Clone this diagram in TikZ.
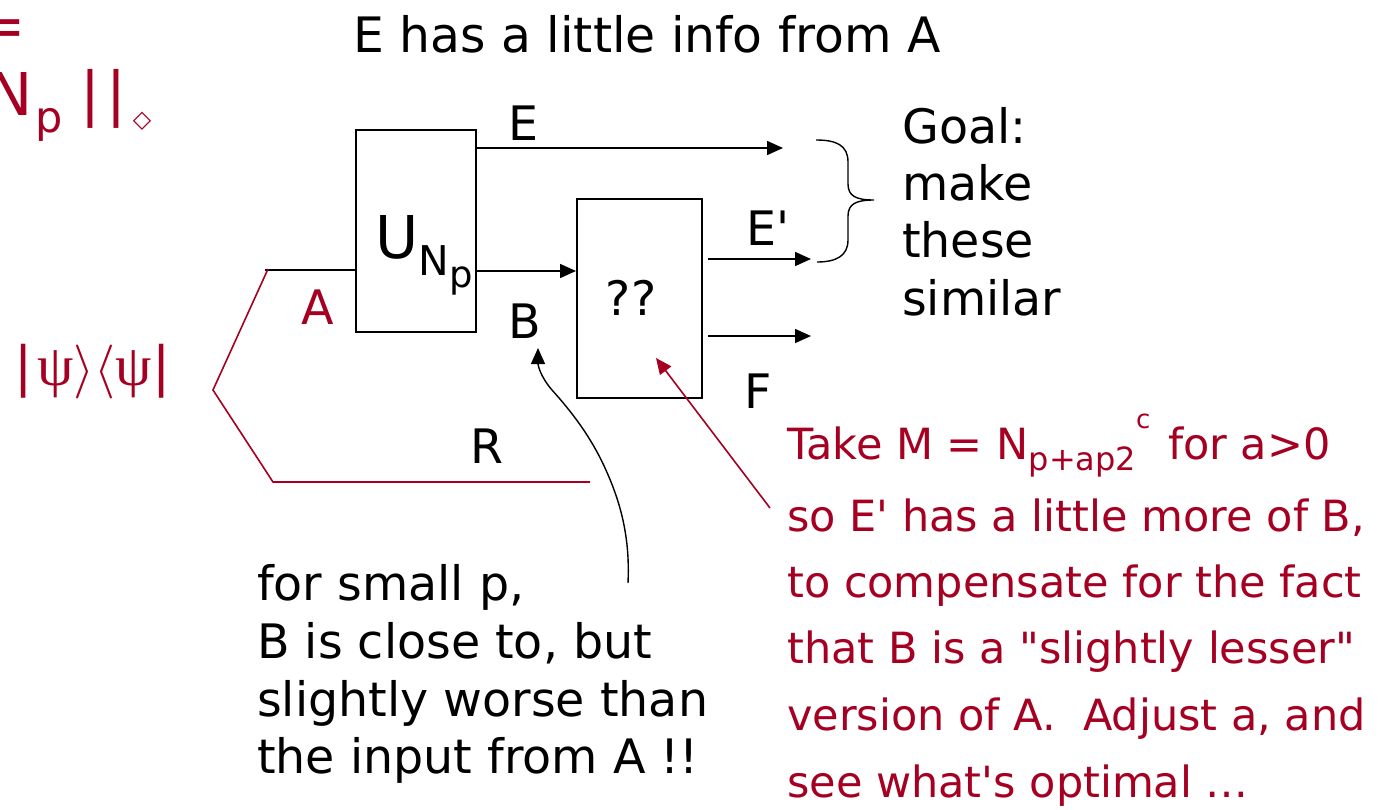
\documentclass[tikz,border=0pt]{standalone}
\usepackage{fix-cm}
\usepackage{fontspec}
\setmainfont{DejaVu Sans}[Ligatures=TeXOff]
\newfontfamily\psifont{Liberation Serif}
\usetikzlibrary{arrows.meta}
\definecolor{myred}{RGB}{165,0,33}
\begin{document}
\begin{tikzpicture}[x=1pt,y=-1pt,
  blk/.style={line width=1.6pt, draw=black},
  arr/.style={blk, -{Triangle[length=16pt,width=14pt]}},
  redarr/.style={draw=myred, line width=1.6pt, -{Triangle[length=16pt,width=14pt]}},
  redline/.style={draw=myred, line width=1.6pt},
  boxst/.style={draw, line width=1.6pt, anchor=north west, inner sep=0pt},
  lbl/.style={font=\fontsize{47.5}{58}\selectfont, inner sep=0pt, anchor=base west},
  clbl/.style={font=\fontsize{47.5}{58}\selectfont, inner sep=0pt, anchor=base},
  redtxt/.style={font=\fontsize{43}{60}\selectfont, text=myred, inner sep=0pt, anchor=base west},
]
\useasboundingbox (0,0) rectangle (1395,809);

% top-left fragments
\node[inner sep=0pt, anchor=base east, text=myred, font=\fontsize{59}{59}\selectfont] (eqs) at (26,46) {=};
\node[inner sep=0pt, anchor=base east, text=myred, font=\fontsize{59}{59}\selectfont] (nn) at (33,115) {N};
\node[inner sep=0pt, anchor=base west, text=myred, font=\fontsize{43}{43}\selectfont] (np) at (35,132) {p};
\node[inner sep=0pt, anchor=base west, text=myred, font=\fontsize{59}{59}\selectfont] (bars) at (80,114) {|\kern6pt|};
\node[inner sep=0pt, text=myred, font=\fontsize{24}{24}\selectfont] (dia) at (142,121) {◇};

% psi
\node[inner sep=0pt, anchor=base west, text=myred, font=\fontsize{54}{54}\selectfont] (psi) at (14,385)
  {|\kern5pt{\fontsize{58}{58}\psifont ψ}\kern0pt$\rangle\kern0pt\langle$\kern0pt{\fontsize{58}{58}\psifont ψ}\kern0pt|};

% title
\node[lbl, font=\fontsize{48.8}{58}\selectfont] (title) at (353,52) {E has a little info from A};

% boxes
\node[boxst, minimum width=120pt, minimum height=202pt] (U) at (355,129) {};
\node[boxst, minimum width=125pt, minimum height=199pt] (Q) at (576,198) {};
\node[inner sep=0pt, anchor=base west, font=\fontsize{59}{59}\selectfont] (ulab) at (375,258)
  {U\raisebox{-17pt}{\fontsize{41}{41}\selectfont N\raisebox{-12pt}{\fontsize{37}{37}\selectfont p}}};
\node[clbl] (qq) at (631,315) {??};

% wires
\coordinate (a0) at (265,270);
\draw[blk] (a0) -- (a0 -| U.west);
\coordinate (b0) at (475,271);
\draw[arr] (b0) -- (b0 -| Q.west);
\coordinate (e1) at (783,148);
\draw[arr] (e1 -| U.east) -- (e1);
\coordinate (ep0) at (708,259);
\coordinate (ep1) at (811,259);
\draw[arr] (ep0) -- (ep1);
\coordinate (f0) at (708,336);
\coordinate (f1) at (811,336);
\draw[arr] (f0) -- (f1);

% wire labels
\node[clbl] (lE) at (523,140) {E};
\node[clbl] (lEp) at (768,245) {E'};
\node[clbl] (lB) at (525,338) {B};
\node[clbl] (lF) at (758,408) {F};
\node[clbl, text=myred] (lA) at (318,324) {A};
\node[clbl] (lR) at (487,463) {R};

% red R wire
\coordinate (r0) at (268,269);
\coordinate (r1) at (213,390);
\coordinate (r2) at (273,482);
\coordinate (r3) at (590,482);
\draw[redline] (r0) -- (r1) -- (r2) -- (r3);

% brace
\coordinate (bt) at (816,140);
\coordinate (bb) at (817,262);
\coordinate (btip) at (874,200);
\draw[line width=1.4pt] (bt) .. controls (836,140) and (848,145) .. (848,162)
  -- (848,184) .. controls (848,196) and (856,200) .. (btip)
  .. controls (856,200) and (848,204) .. (848,216)
  -- (848,240) .. controls (848,256) and (836,262) .. (bb);

% Goal text
\node[lbl] (g1) at (902,143) {Goal:};
\node[lbl] (g2) at (902,200) {make};
\node[lbl] (g3) at (902,257) {these};
\node[lbl] (g4) at (902,315) {similar};

% bottom black text
\node[lbl] (s1) at (257,600) {for small p,};
\node[lbl] (s2) at (257,658) {B is close to, but};
\node[lbl] (s3) at (257,716) {slightly worse than};
\node[lbl] (s4) at (257,773) {the input from A !!};

% wavy arrow to B
\coordinate (w0) at (628,583);
\coordinate (w5) at (538,348);
\draw[arr, line width=1.4pt] (w0) .. controls (630,540) and (622,505) .. (605,468)
  .. controls (590,435) and (570,410) .. (552,390)
  .. controls (540,376) and (538,365) .. (w5);

% red text
\node[redtxt] (t1) at (787,459) {Take M = N\raisebox{-11pt}{\fontsize{32}{32}\selectfont p+ap2}\raisebox{31pt}{\fontsize{26}{26}\selectfont c}\kern4pt{} for a>0};
\node[redtxt] (t2) at (787,531) {so E' has a little more of B,};
\node[redtxt] (t3) at (787,597) {to compensate for the fact};
\node[redtxt] (t4) at (787,663) {that B is a "slightly lesser"};
\node[redtxt] (t5) at (787,730) {version of A.\ \ Adjust a, and};
\node[redtxt] (t6) at (787,797) {see what's optimal …};

% red arrow
\coordinate (ra0) at (770,508);
\coordinate (ra1) at (656,358);
\draw[redarr] (ra0) -- (ra1);
\end{tikzpicture}
\end{document}
